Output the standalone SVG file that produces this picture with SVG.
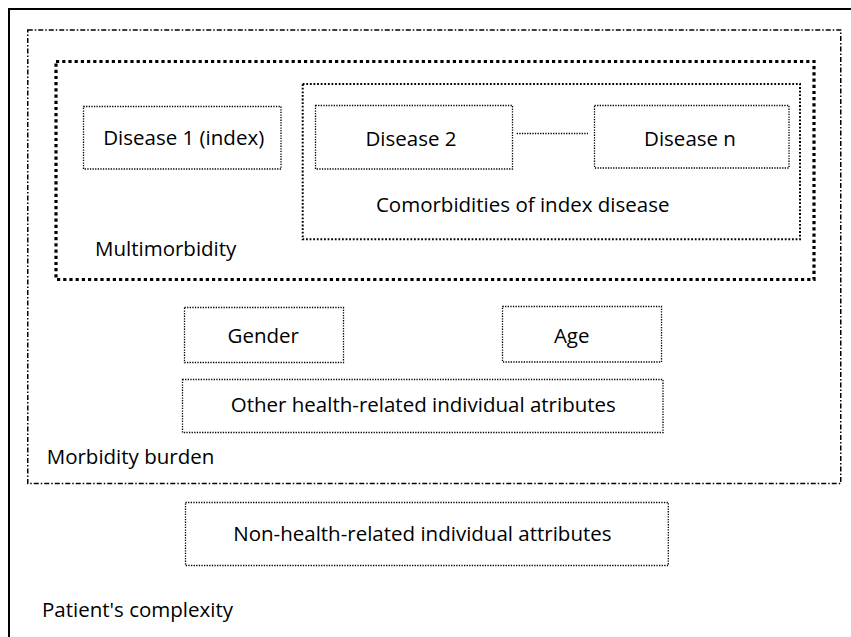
<svg xmlns="http://www.w3.org/2000/svg" width="851" height="637" viewBox="0 0 851 637">
<style>
.t{font-family:"Open Sans","Noto Sans","Liberation Sans",sans-serif;font-size:20.5px;fill:#000;text-anchor:middle}
.tl{font-family:"Open Sans","Noto Sans","Liberation Sans",sans-serif;font-size:20.5px;fill:#000}
.solid{fill:none;stroke:#000;stroke-width:2}
.dashdot{fill:none;stroke:#000;stroke-width:1.5;stroke-dasharray:5 2 1.5 2}
.thick{fill:none;stroke:#000;stroke-width:3.2;stroke-dasharray:3.2 3}
.med{fill:none;stroke:#000;stroke-width:2;stroke-dasharray:1.8 1.8}
.fine{fill:#fff;stroke:#000;stroke-width:1.3;stroke-dasharray:1.3 1.3}
.conn{fill:none;stroke:#000;stroke-width:1.3;stroke-dasharray:1.3 1.3}
</style>
<rect width="851" height="637" fill="#fff"/>
<g id="patient-complexity">
<rect class="solid" x="9" y="9" width="900" height="700"/>
<text class="tl" x="42" y="617">Patient's complexity</text>
</g>
<g id="morbidity-burden">
<rect class="dashdot" x="27.75" y="30" width="813" height="453.5"/>
<text class="tl" x="46.7" y="464">Morbidity burden</text>
</g>
<g id="multimorbidity">
<rect class="thick" x="56" y="61.5" width="758" height="218"/>
<text class="tl" x="95" y="256">Multimorbidity</text>
</g>
<g id="comorbidities">
<rect class="med" x="302.7" y="84" width="497.3" height="155.3"/>
<text class="t" x="522.7" y="212">Comorbidities of index disease</text>
</g>
<g id="disease1">
<rect class="fine" x="83.5" y="106.5" width="197.5" height="62.5"/>
<text class="t" x="183.7" y="144.5">Disease 1 (index)</text>
</g>
<g id="disease2">
<rect class="fine" x="315.5" y="105.5" width="197" height="63.5"/>
<text class="t" x="411" y="145.5">Disease 2</text>
</g>
<g id="diseasen">
<rect class="fine" x="594.5" y="105.5" width="194.5" height="62.5"/>
<text class="t" x="690" y="145.5">Disease n</text>
</g>
<g id="gender">
<rect class="fine" x="184.5" y="307.5" width="159" height="55"/>
<text class="t" x="263.3" y="343.3">Gender</text>
</g>
<g id="age">
<rect class="fine" x="502.5" y="306.5" width="159" height="55.5"/>
<text class="t" x="571.7" y="343.3">Age</text>
</g>
<g id="other-health">
<rect class="fine" x="182.5" y="379.5" width="480.5" height="53"/>
<text class="t" x="423.3" y="411.7">Other health-related individual atributes</text>
</g>
<g id="non-health">
<rect class="fine" x="185.5" y="502.5" width="482.8" height="63"/>
<text class="t" x="422.4" y="540.7">Non-health-related individual attributes</text>
</g>
<g id="connectors">
<line class="conn" x1="516.7" y1="133.5" x2="588" y2="133.5"/>
</g>
</svg>
